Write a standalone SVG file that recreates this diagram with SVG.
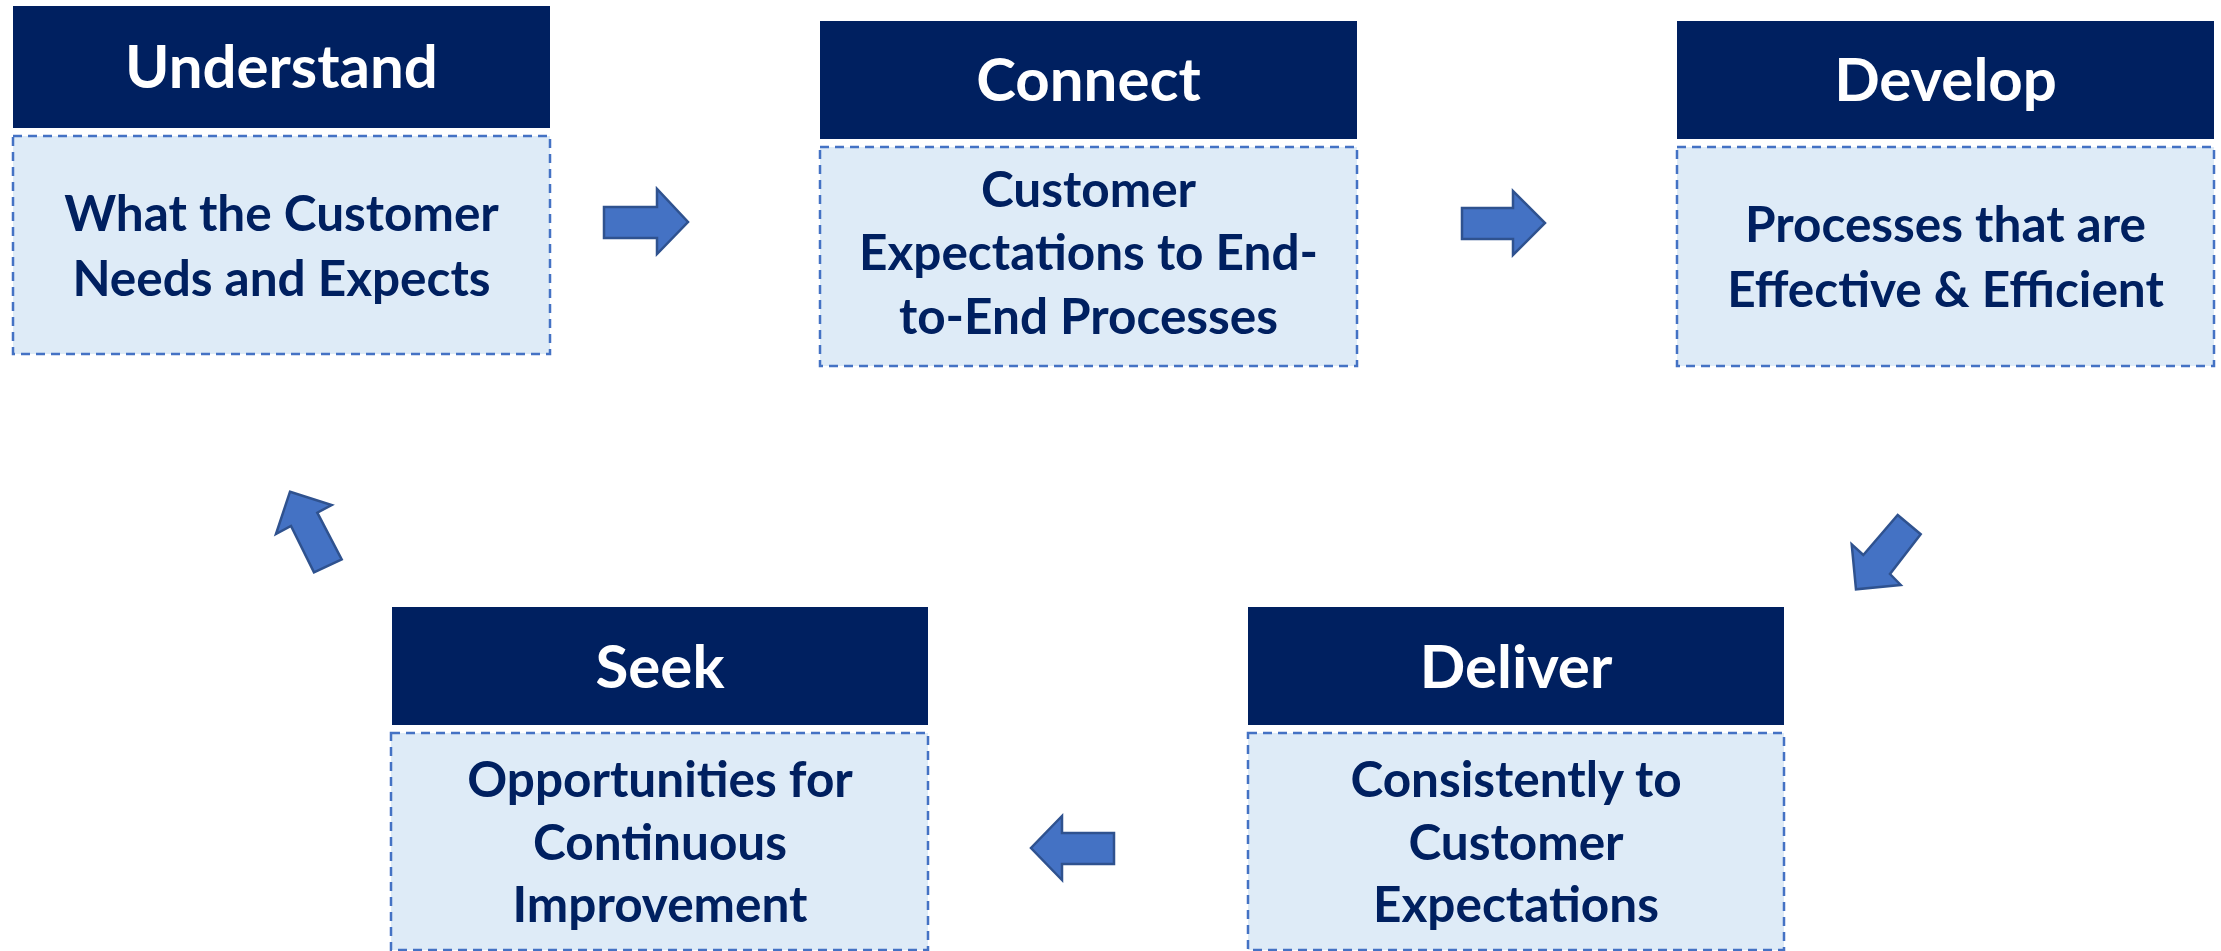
<svg xmlns="http://www.w3.org/2000/svg" width="2221" height="951" viewBox="0 0 2221 951">
  <style>
    .hdr { fill: #002060; }
    .body { fill: #DEEBF7; stroke: #4472C4; stroke-width: 2.5; stroke-dasharray: 9 6; }
    .title { font-family: Lato, "Liberation Sans", sans-serif; font-weight: 700; font-size: 60px; fill: #FFFFFF; text-anchor: middle; }
    .desc { font-family: Lato, "Liberation Sans", sans-serif; font-weight: 700; font-size: 49.5px; fill: #002060; text-anchor: middle; }
    .arrow { fill: #4472C4; stroke: #2F528F; stroke-width: 2.5; stroke-linejoin: miter; }
  </style>
  <rect width="2221" height="951" fill="#FFFFFF"/>

  <g id="understand">
    <rect class="hdr" x="13" y="6" width="537" height="122"/>
    <text class="title" x="281.5" y="88">Understand</text>
    <rect class="body" x="13" y="136" width="537" height="218"/>
    <text class="desc" x="281.5" y="231">What the Customer</text>
    <text class="desc" x="281.5" y="296">Needs and Expects</text>
  </g>

  <g id="connect">
    <rect class="hdr" x="820" y="21" width="537" height="118"/>
    <text class="title" x="1088.5" y="101">Connect</text>
    <rect class="body" x="820" y="147" width="537" height="219"/>
    <text class="desc" x="1088.5" y="207">Customer</text>
    <text class="desc" x="1088.5" y="270">Expectations to End-</text>
    <text class="desc" x="1088.5" y="334">to-End Processes</text>
  </g>

  <g id="develop">
    <rect class="hdr" x="1677" y="21" width="537" height="118"/>
    <text class="title" x="1945.5" y="101">Develop</text>
    <rect class="body" x="1677" y="147" width="537" height="219"/>
    <text class="desc" x="1945.5" y="242">Processes that are</text>
    <text class="desc" x="1945.5" y="307">Effective &amp; Efficient</text>
  </g>

  <g id="deliver">
    <rect class="hdr" x="1248" y="607" width="536" height="118"/>
    <text class="title" x="1516" y="688">Deliver</text>
    <rect class="body" x="1248" y="733" width="536" height="217"/>
    <text class="desc" x="1516" y="797">Consistently to</text>
    <text class="desc" x="1516" y="860">Customer</text>
    <text class="desc" x="1516" y="922">Expectations</text>
  </g>

  <g id="seek">
    <rect class="hdr" x="392" y="607" width="536" height="118"/>
    <text class="title" x="660" y="688">Seek</text>
    <rect class="body" x="391" y="733" width="537" height="217"/>
    <text class="desc" x="660" y="797">Opportunities for</text>
    <text class="desc" x="660" y="860">Continuous</text>
    <text class="desc" x="660" y="922">Improvement</text>
  </g>

  <g id="connectors">
    <!-- block arrows running clockwise round the cycle -->
    <polygon class="arrow" points="604,207 657,207 657,189 688,222 657,254 657,238 604,238"/>
    <polygon class="arrow" points="1462,208 1513,208 1513,191 1545,223 1513,255 1513,239 1462,239"/>
    <polygon class="arrow" points="1897.7,515 1920.7,534.3 1890,574 1900.7,585 1856,589.3 1851.7,544.3 1863.3,555"/>
    <polygon class="arrow" points="1114,833 1062,833 1062,816 1031,848 1062,880 1062,864 1114,864"/>
    <polygon class="arrow" points="290,491.7 331.7,505 317.3,512.7 341.7,559.3 314,572.3 291,526 276,534"/>
  </g>
</svg>
